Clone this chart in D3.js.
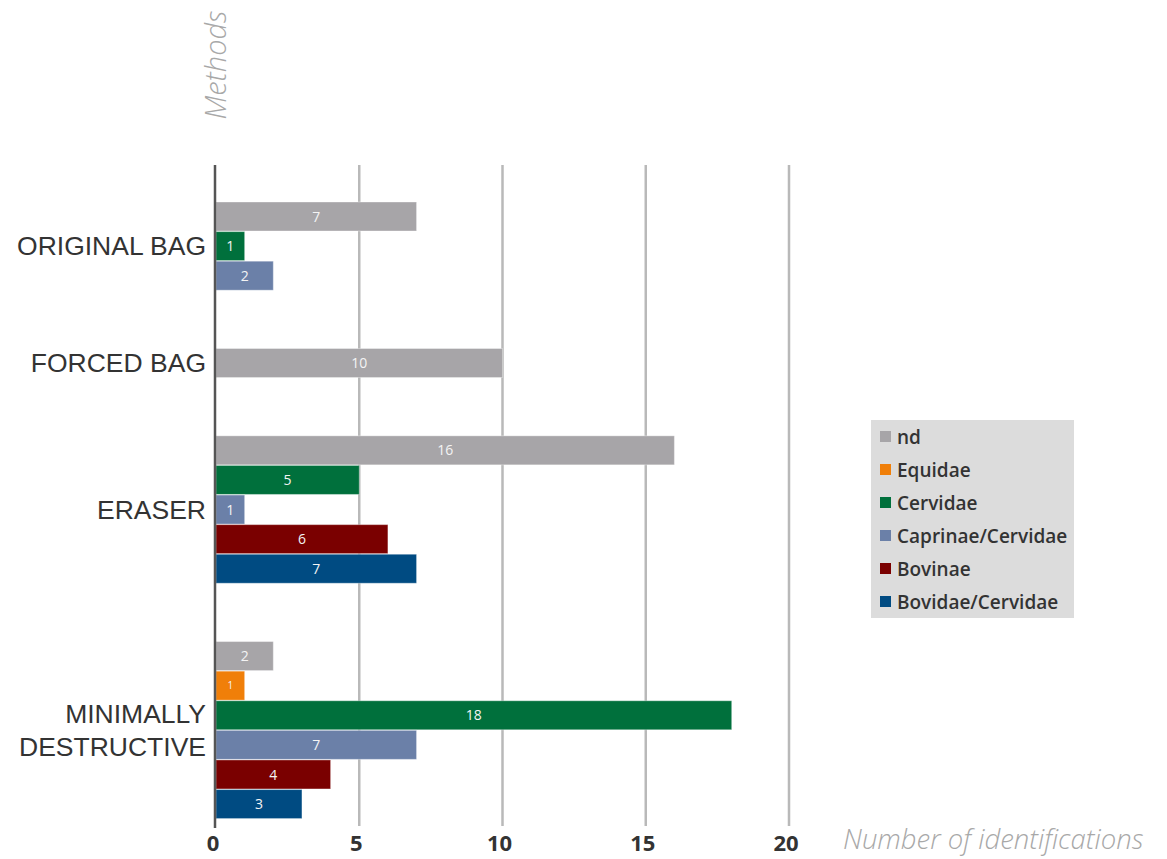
<!DOCTYPE html>
<html lang="en">
<head>
    <meta charset="UTF-8">
    <title>Number of identifications by method</title>
    <script src="https://d3js.org/d3.v7.min.js"></script>
    <style>
        body { margin: 0; background: #fff; }
    </style>
</head>
<body>
    <script>
        // dane
        var methods = ["ORIGINAL BAG", "FORCED BAG", "ERASER", "MINIMALLY DESTRUCTIVE"];
        var taxa = ["nd", "Equidae", "Cervidae", "Caprinae/Cervidae", "Bovinae", "Bovidae/Cervidae"];
        var colors = ["#a7a5a8", "#f07f09", "#00703c", "#6b80a8", "#7a0000", "#004b82"];
        var ndValues        = [7, 10, 16, 2];
        var equidaeValues   = [null, null, null, 1];
        var cervidaeValues  = [1, null, 5, 18];
        var caprinaeValues  = [2, null, 1, 7];
        var bovinaeValues   = [null, null, 6, 4];
        var bovidaeValues   = [null, null, 7, 3];
        var xTicks = [0, 5, 10, 15, 20];

        var seriesValues = [ndValues, equidaeValues, cervidaeValues, caprinaeValues, bovinaeValues, bovidaeValues];

        var width = 1167, height = 859;
        var svg = d3.select("body").append("svg")
            .attr("width", width)
            .attr("height", height);

        // skala X
        var x = d3.scaleLinear().domain([0, 20]).range([216, 789]);

        // budowa listy slupkow - w kazdej grupie tylko obecne serie, jedna pod druga
        var groupGap = 1.95;
        var bars = [];
        var groups = [];
        var slot = 0;
        methods.forEach(function (m, gi) {
            var start = slot;
            seriesValues.forEach(function (vals, si) {
                if (vals[gi] != null) {
                    bars.push({ method: m, taxon: taxa[si], color: colors[si], value: vals[gi], slot: slot });
                    slot += 1;
                }
            });
            groups.push({ method: m, start: start, end: slot });
            slot += groupGap;
        });

        var y = d3.scaleLinear().domain([0, 1]).range([202, 231.6]);
        var barH = 29;

        // linie siatki
        svg.selectAll("line.grid")
            .data(xTicks.slice(1))
            .enter().append("line")
            .attr("class", "grid")
            .attr("x1", d => x(d)).attr("x2", d => x(d))
            .attr("y1", 165).attr("y2", 826)
            .attr("stroke", "#b9b9b9")
            .attr("stroke-width", 2.5);

        // slupki
        svg.selectAll("rect.bar")
            .data(bars)
            .enter().append("rect")
            .attr("class", "bar")
            .attr("x", x(0))
            .attr("y", d => y(d.slot))
            .attr("width", d => x(d.value) - x(0))
            .attr("height", barH)
            .attr("fill", d => d.color)
            .attr("stroke", "rgba(255,255,255,0.35)")
            .attr("stroke-width", 1);

        // etykiety wartosci
        svg.selectAll("text.val")
            .data(bars)
            .enter().append("text")
            .attr("class", "val")
            .attr("x", d => (x(0) + x(d.value)) / 2)
            .attr("y", d => y(d.slot) + barH / 2)
            .attr("dy", "0.36em")
            .attr("text-anchor", "middle")
            .style("font-family", "'Open Sans', sans-serif")
            .style("font-size", d => d.taxon === "Equidae" ? "10px" : "14px")
            .style("fill", "#f4f4f4")
            .text(d => d.value);

        // os Y (linia)
        svg.append("line")
            .attr("x1", 215).attr("x2", 215)
            .attr("y1", 165).attr("y2", 828)
            .attr("stroke", "#555")
            .attr("stroke-width", 2.5);

        // etykiety metod
        var catLabels = svg.selectAll("text.cat")
            .data(groups)
            .enter().append("text")
            .attr("class", "cat")
            .attr("text-anchor", "end")
            .style("font-family", "'Liberation Sans', Arial, sans-serif")
            .style("font-size", "26.5px")
            .style("fill", "#333");

        catLabels.each(function (g) {
            var words = g.method === "MINIMALLY DESTRUCTIVE" ? ["MINIMALLY", "DESTRUCTIVE"] : [g.method];
            var cy = (y(g.start) + y(g.end) - (y(1) - y(0) - barH)) / 2;
            var lineH = 33;
            d3.select(this).selectAll("tspan")
                .data(words)
                .enter().append("tspan")
                .attr("x", 206)
                .attr("y", (w, i) => cy + (i - (words.length - 1) / 2) * lineH)
                .attr("dy", "0.35em")
                .text(w => w);
        });

        // etykiety osi X
        svg.selectAll("text.tick")
            .data(xTicks)
            .enter().append("text")
            .attr("class", "tick")
            .attr("x", d => x(d) - 3)
            .attr("y", 843)
            .attr("dy", "0.35em")
            .attr("text-anchor", "middle")
            .style("font-family", "'Open Sans', sans-serif")
            .style("font-weight", "bold")
            .style("font-size", "22px")
            .style("fill", "#333")
            .text(d => d);

        // tytuly osi
        svg.append("text")
            .attr("x", 843)
            .attr("y", 839)
            .attr("dy", "0.35em")
            .style("font-family", "'Open Sans', sans-serif")
            .style("font-style", "italic")
            .style("font-weight", "300")
            .style("font-size", "27.5px")
            .style("fill", "#a8a8a8")
            .text("Number of identifications");

        svg.append("text")
            .attr("transform", "translate(226,65) rotate(-90)")
            .attr("text-anchor", "middle")
            .style("font-family", "'Open Sans', sans-serif")
            .style("font-style", "italic")
            .style("font-weight", "300")
            .style("font-size", "29px")
            .style("fill", "#a8a8a8")
            .text("Methods");

        // legenda
        var legend = svg.append("g").attr("transform", "translate(871,420)");
        legend.append("rect")
            .attr("width", 203)
            .attr("height", 198)
            .attr("fill", "#dcdcdc");

        var legItems = legend.selectAll("g.item")
            .data(taxa)
            .enter().append("g")
            .attr("class", "item")
            .attr("transform", (d, i) => "translate(0," + (17 + i * 33) + ")");

        legItems.append("rect")
            .attr("x", 9).attr("y", -6)
            .attr("width", 11).attr("height", 11)
            .attr("fill", (d, i) => colors[i]);

        legItems.append("text")
            .attr("x", 26)
            .attr("dy", "0.35em")
            .style("font-family", "'Open Sans', sans-serif")
            .style("font-weight", "600")
            .style("font-size", "19px")
            .style("fill", "#333")
            .text(d => d);
    </script>
</body>
</html>
